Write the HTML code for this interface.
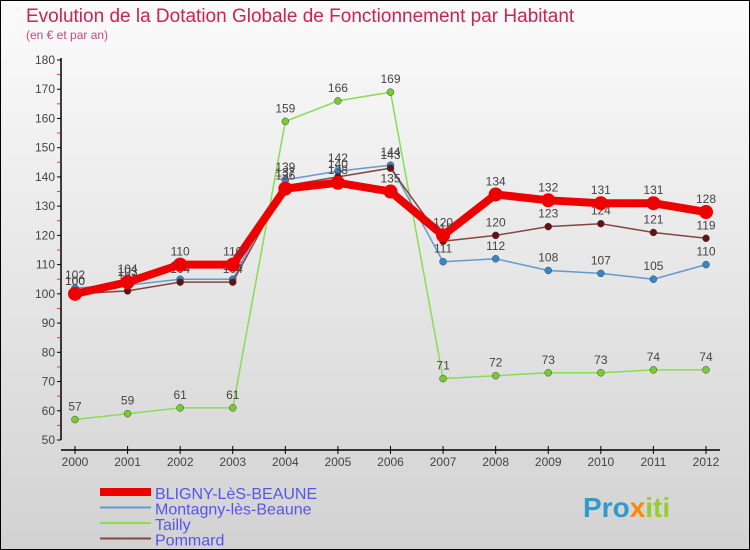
<!DOCTYPE html>
<html><head><meta charset="utf-8"><style>
body{margin:0}
svg{display:block;font-family:"Liberation Sans",sans-serif}
</style></head><body>
<svg id="c" width="750" height="550" viewBox="0 0 750 550">
<defs><linearGradient id="bg" x1="0" y1="0" x2="0" y2="1"><stop offset="0" stop-color="#fbfbfb"/><stop offset="1" stop-color="#d2d2d2"/></linearGradient></defs>
<rect x="0.5" y="0.5" width="749" height="549" fill="url(#bg)" stroke="#000"/>
<text x="26" y="22" font-size="19" fill="#cc2255">Evolution de la Dotation Globale de Fonctionnement par Habitant</text>
<text x="26" y="39" font-size="12" fill="#cc4477">(en € et par an)</text>
<g id="axes"></g><g id="series"></g><g id="legend"></g>
<text x="583" y="517" font-size="28" font-weight="bold" fill="#3399cc">Pro<tspan fill="#ff8800">x</tspan><tspan fill="#99cc33">iti</tspan></text>
</svg>
<script>
const years=[2000,2001,2002,2003,2004,2005,2006,2007,2008,2009,2010,2011,2012];
const yTicks=[50,60,70,80,90,100,110,120,130,140,150,160,170,180];
const names=["BLIGNY-LèS-BEAUNE","Montagny-lès-Beaune","Tailly","Pommard"];
const bligny=[100,104,110,110,136,138,135,120,134,132,131,131,128];
const montagny=[102,103,105,105,139,142,144,111,112,108,107,105,110];
const tailly=[57,59,61,61,159,166,169,71,72,73,73,74,74];
const pommard=[100,101,104,104,137,140,143,118,120,123,124,121,119];
const NS="http://www.w3.org/2000/svg";
const xS=i=>75+i*(706-75)/(years.length-1);
const yS=v=>440-(v-50)*(380/130);
function mk(t,a,p){const e=document.createElementNS(NS,t);for(const k in a)e.setAttribute(k,a[k]);p.appendChild(e);return e;}
const ax=document.getElementById('axes');
let l=mk('line',{x1:61,y1:58,x2:61,y2:440,stroke:'#000','stroke-width':1.5},ax);


l=mk('line',{x1:61,y1:450,x2:720,y2:450,stroke:'#000','stroke-width':1.5},ax);


yTicks.forEach(v=>{const y=yS(v);
 mk('line',{x1:57,y1:y,x2:61,y2:y,stroke:'#000'},ax);
 if(v<180)mk('line',{x1:57,y1:yS(v+5),x2:60,y2:yS(v+5),stroke:'#e33'},ax);
 const t=mk('text',{x:55,y:y+4,'font-size':12,fill:'#444','text-anchor':'end'},ax);t.textContent=v;
 
 });
years.forEach((yr,i)=>{const x=xS(i);
 mk('line',{x1:x,y1:446,x2:x,y2:454,stroke:'#000'},ax);
 const t=mk('text',{x:x,y:466,'font-size':12,fill:'#444','text-anchor':'middle'},ax);t.textContent=yr;
 
 });
const sg=document.getElementById('series');
const defs=[[tailly,'#88dd55','#77cc33',1.5,3.5,'tailly'],[montagny,'#6699cc','#3388cc',1.5,3.5,'montagny'],[pommard,'#884444','#661111',1.5,3.5,'pommard'],[bligny,'#ee0000','#ee0000',8,7,'bligny']];
defs.forEach(([d,c,fc,w,r,n])=>{const g=mk('g',{},sg);
 
 
 mk('polyline',{points:d.map((v,i)=>xS(i)+','+yS(v)).join(' '),fill:'none',stroke:c,'stroke-width':w,'stroke-linejoin':'round'},g);
 d.forEach((v,i)=>{const p=mk('circle',{cx:xS(i),cy:yS(v),r:r,fill:fc,stroke:n==='bligny'?'none':'#444','stroke-width':0.5},g);
  
  
  const t=mk('text',{x:xS(i),y:yS(v)-9,'font-size':12,fill:'#444','text-anchor':'middle'},g);t.textContent=v;
  
  });});
const lg=document.getElementById('legend');
const lc=[['#ee0000',8],['#6699cc',2],['#88dd55',2],['#884444',2]];
names.forEach((n,i)=>{const y=492+i*15.5;const g=mk('g',{},lg);
 
 
 mk('line',{x1:100,y1:y,x2:151,y2:y,stroke:lc[i][0],'stroke-width':lc[i][1]},g);
 const t=mk('text',{x:155,y:y+7,'font-size':16,fill:'#5555ee'},g);t.textContent=n;});
</script>
</body></html>
